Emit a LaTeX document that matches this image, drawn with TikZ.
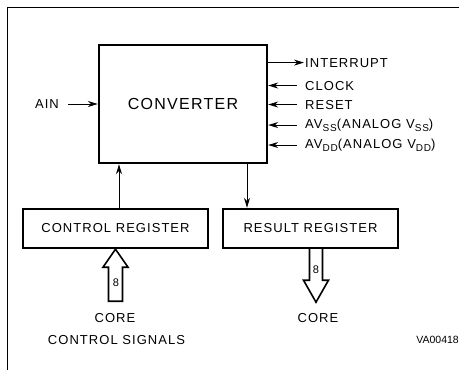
\documentclass[tikz,border=0pt]{standalone}
\usepackage{fontspec}
\setmainfont{Liberation Sans}
\newfontfamily\spacedfont{Liberation Sans}[LetterSpace=8]
\usetikzlibrary{arrows.meta}
\newcommand\lowsub[1]{\raisebox{-0.5ex}{\fontsize{10}{10}\selectfont #1}}
\tikzset{
  regbox/.style={draw, line width=2.4pt, minimum height=39pt, inner sep=0pt, font=\spacedfont\fontsize{13}{15}\selectfont},
  sig/.style={-{Stealth[length=10pt,width=6pt]}, line width=1pt},
  pinlbl/.style={anchor=base west, inner sep=1pt, font=\spacedfont\fontsize{13}{15}\selectfont},
  txt/.style={inner sep=1pt, font=\spacedfont\fontsize{13}{15}\selectfont},
  bus/.style={draw, line width=1.6pt, fill=white, line join=miter},
}
\begin{document}
\begin{tikzpicture}[x=1pt, y=-1pt]
  \useasboundingbox (0,0) rectangle (459,370);
  % page frame
  \draw[line width=1.8pt] (7.5,370) -- (7.5,7.5) -- (459,7.5);
  % blocks
  \node[regbox, minimum width=168pt, minimum height=118pt, font=\spacedfont\fontsize{16}{19}\selectfont] (conv) at (183,104) {CONVERTER};
  \node[regbox, minimum width=185pt] (ctrl) at (115.5,228.5) {CONTROL REGISTER};
  \node[regbox, minimum width=175pt] (res) at (310.5,228.5) {RESULT REGISTER};
  % pins on the right
  \node[pinlbl] (intr) at (304,67) {INTERRUPT};
  \node[pinlbl] (clk) at (304,90) {CLOCK};
  \node[pinlbl] (rst) at (304,109) {RESET};
  \node[pinlbl] (avss) at (304,128) {AV\lowsub{SS}(ANALOG V\lowsub{SS})};
  \node[pinlbl] (avdd) at (304,148) {AV\lowsub{DD}(ANALOG V\lowsub{DD})};
  \draw[sig] (conv.east |- intr.west) -- (intr.west);
  \draw[sig, shorten <=7pt] (clk.west) -- (conv.east |- clk.west);
  \draw[sig, shorten <=7pt] (rst.west) -- (conv.east |- rst.west);
  \draw[sig, shorten <=7pt] (avss.west) -- (conv.east |- avss.west);
  \draw[sig, shorten <=7pt] (avdd.west) -- (conv.east |- avdd.west);
  % analog input
  \node[txt] (ain) at (47,104) {AIN};
  \draw[sig, shorten <=8pt] (ain) -- (conv.west |- ain);
  % register paths
  \coordinate (upx) at (119,0);
  \coordinate (dnx) at (247,0);
  \draw[sig] (ctrl.north -| upx) -- (conv.south -| upx);
  \draw[sig] (conv.south -| dnx) -- (res.north -| dnx);
  % 8 bit buses
  \coordinate (cin) at (115.5,0);
  \coordinate (cout) at (309.5,0);
  \draw[bus] (ctrl.south -| cin) -- ++(12.5,18) -- ++(-5.5,0) -- ++(0,34) -- ++(-14,0) -- ++(0,-34) -- ++(-5.5,0) -- cycle;
  \draw[bus] (res.south -| cout) -- ++(0,31) -- ++(-6,0) -- ++(12.5,22) -- ++(12.5,-22) -- ++(-6,0) -- ++(0,-31);
  \node[inner sep=0pt, font=\fontsize{11}{12}\selectfont] (w1) at (116,283) {8};
  \node[inner sep=0pt, font=\fontsize{11}{12}\selectfont] (w2) at (316,270) {8};
  % captions
  \node[txt] (core1) at (115,318) {CORE};
  \node[txt] (ctlsig) at (116.5,340) {CONTROL SIGNALS};
  \node[txt] (core2) at (318,318) {CORE};
  \node[inner sep=0pt, anchor=east, font=\fontsize{10.5}{12}\selectfont] (ref) at (459,340) {VA00418};
\end{tikzpicture}
\end{document}
